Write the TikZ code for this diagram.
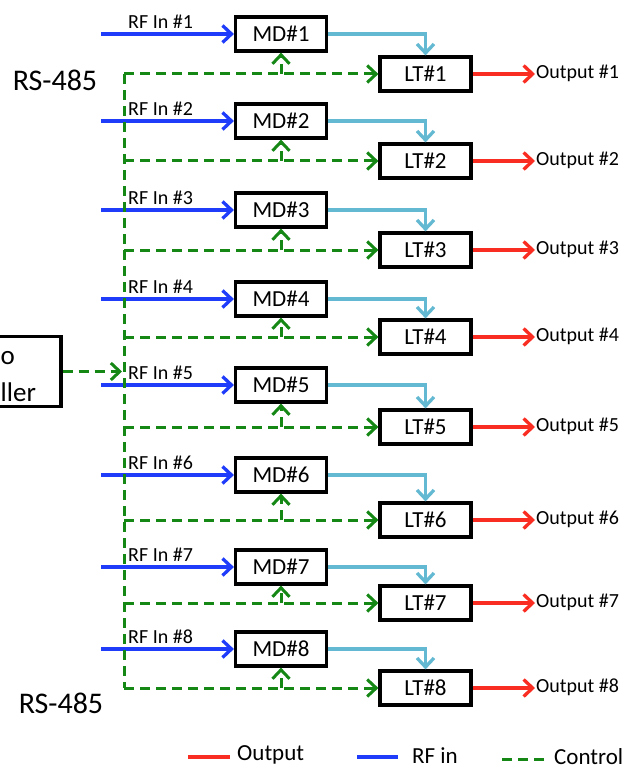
\documentclass[tikz,border=0pt]{standalone}
\usepackage{fontspec}
\setmainfont{Carlito}
\usetikzlibrary{arrows.meta}
\definecolor{rfblue}{RGB}{30,60,250}
\definecolor{mdcyan}{RGB}{100,185,210}
\definecolor{outred}{RGB}{250,45,35}
\definecolor{ctlgreen}{RGB}{20,135,20}
\tikzset{
	blk/.style={draw, line width=3.2pt, minimum width=91pt, minimum height=34pt, inner sep=0pt, font=\fontsize{23}{26}\selectfont},
	lbl/.style={inner sep=1pt, font=\fontsize{20}{22}\selectfont},
	big/.style={inner sep=0pt, font=\fontsize{30}{32}\selectfont},
	barb/.style={-{Straight Barb[length=9pt,width=17pt]}},
	rfline/.style={barb, rfblue, line width=3.3pt},
	mdline/.style={barb, mdcyan, line width=3.3pt},
	outline/.style={barb, outred, line width=3.3pt},
	ctl/.style={ctlgreen, line width=3pt, dash pattern=on 10pt off 6pt},
}
\begin{document}
\begin{tikzpicture}[x=1pt, y=-1pt]
	\useasboundingbox (0,0) rectangle (632,770);
	\foreach \i/\ym/\yl in {1/34/74, 2/121/161, 3/210/250, 4/299/337, 5/385/427, 6/475/520, 7/567/603, 8/649/688} {
		\node[blk] (md\i) at (281,\ym) {MD\#\i};
		\node[blk] (lt\i) at (425.5,\yl) {LT\#\i};
		\coordinate (rf\i) at (101,\ym);
		\node[lbl, anchor=south west] (rfl\i) at (127,\ym-4) {RF In \#\i};
		\node[lbl, anchor=west] (out\i) at (535,\yl-1) {Output \#\i};
		\coordinate (bus\i) at (124,\yl);
		\coordinate (tap\i) at (md\i.south |- lt\i.west);
		\draw[rfline] (rf\i) -- (md\i.west);
		\draw[mdline] (md\i.east) -| (lt\i.north);
		\draw[outline] (lt\i.east) -- (lt\i.east -| out\i.west);
		\draw[ctl, barb] (bus\i) -- (lt\i.west);
		\draw[ctl, barb] (tap\i) -- (md\i.south);
	}
	\draw[ctl] (bus1) -- (bus8);
	\node[blk, minimum width=140pt, minimum height=70pt] (ctrl) at (-9,371.5) {};
	\node[inner sep=0pt, anchor=base west, font=\fontsize{27}{30}\selectfont] (ctrla) at (0.5,364) {o};
	\node[inner sep=0pt, anchor=base west, font=\fontsize{27}{30}\selectfont] (ctrlb) at (0.5,401) {ller};
	\coordinate (busin) at (122,371.5);
	\draw[ctl, barb] (ctrl.east) -- (busin);
	\node[big] (rstop) at (55,80) {RS-485};
	\node[big] (rsbot) at (61,703) {RS-485};
	\node[inner sep=0pt, anchor=west, font=\fontsize{23}{26}\selectfont] (lgout) at (237,755) {Output};
	\node[inner sep=0pt, anchor=west, font=\fontsize{23}{26}\selectfont] (lgrf) at (412,756) {RF in};
	\node[inner sep=0pt, anchor=west, font=\fontsize{23}{26}\selectfont] (lgctl) at (554,757) {Control};
	\draw[outred, line width=3.3pt] (lgout.west) ++(-7,2) -- ++(-42,0);
	\draw[rfblue, line width=3.3pt] (lgrf.west) ++(-14,1) -- ++(-41,0);
	\draw[ctl] (lgctl.west) ++(-10,2) -- ++(-44,0);
\end{tikzpicture}
\end{document}
